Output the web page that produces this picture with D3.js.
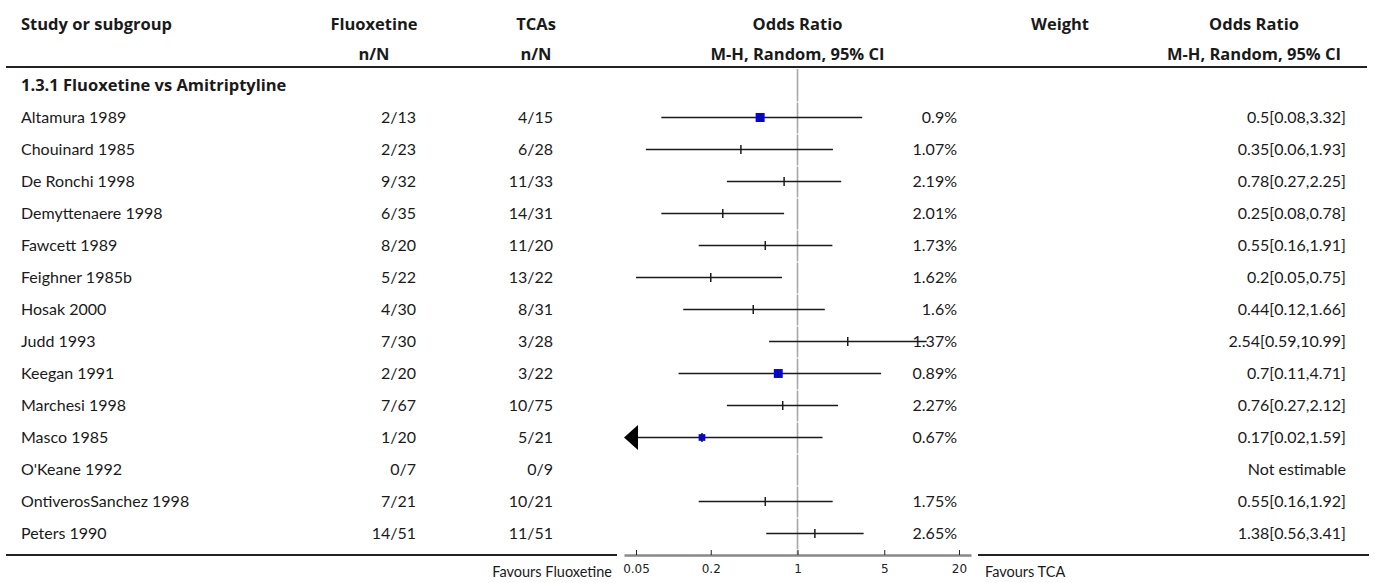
<!DOCTYPE html>
<html>
<head>
<meta charset="utf-8"/>
<title>Fluoxetine vs TCAs</title>
<style>
body {margin:0; background:#fff}
svg text {font-family: Lato, "Source Sans Pro", sans-serif; font-size:16px; fill:#1a1a1a}
svg text.hdr {font-family: "Open Sans", sans-serif; font-weight:bold; font-size:16.5px}
.axis text {font-family:"DejaVu Sans"; font-size:12px; fill:#222}
</style>
</head>
<body>
<div id="chart"></div>
<script src="https://d3js.org/d3.v7.min.js"></script>
<script>
// data
var groupTitle = "1.3.1 Fluoxetine vs Amitriptyline";
var studies = ["Altamura 1989","Chouinard 1985","De Ronchi 1998","Demyttenaere 1998","Fawcett 1989",
  "Feighner 1985b","Hosak 2000","Judd 1993","Keegan 1991","Marchesi 1998","Masco 1985",
  "O'Keane 1992","OntiverosSanchez 1998","Peters 1990"];
var fluoxetine = ["2/13","2/23","9/32","6/35","8/20","5/22","4/30","7/30","2/20","7/67","1/20","0/7","7/21","14/51"];
var tcas = ["4/15","6/28","11/33","14/31","11/20","13/22","8/31","3/28","3/22","10/75","5/21","0/9","10/21","11/51"];
var weights = [0.9,1.07,2.19,2.01,1.73,1.62,1.6,1.37,0.89,2.27,0.67,null,1.75,2.65];
var oddsRatio = [0.5,0.35,0.78,0.25,0.55,0.2,0.44,2.54,0.7,0.76,0.17,null,0.55,1.38];
var ciLow = [0.08,0.06,0.27,0.08,0.16,0.05,0.12,0.59,0.11,0.27,0.02,null,0.16,0.56];
var ciHigh = [3.32,1.93,2.25,0.78,1.91,0.75,1.66,10.99,4.71,2.12,1.59,null,1.92,3.41];
var tickValues = [0.05,0.2,1,5,20];
var favoursLeft = "Favours Fluoxetine", favoursRight = "Favours TCA";

var width = 1375, height = 583;
var svg = d3.select("#chart").append("svg").attr("width", width).attr("height", height);

// log scale for the odds ratio column
var x = d3.scaleLog().domain([0.04, 25]).range([624, 971]);
// row positions
var y = d3.scaleLinear().domain([0, 1]).range([117.5, 149.5]);
var rowH = 32;

// header
svg.append("text").attr("class","hdr").attr("x", 21).attr("y", 24).attr("dy", "0.35em").text("Study or subgroup");
[["Fluoxetine","n/N",374],["TCAs","n/N",536],["Odds Ratio","M-H, Random, 95% CI",x(1)],
 ["Weight","",1060],["Odds Ratio","M-H, Random, 95% CI",1254]].forEach(function(c){
  svg.append("text").attr("class","hdr").attr("x", c[2]).attr("y", 24).attr("dy", "0.35em")
    .attr("text-anchor","middle").text(c[0]);
  svg.append("text").attr("class","hdr").attr("x", c[2]).attr("y", 54).attr("dy", "0.35em")
    .attr("text-anchor","middle").text(c[1]);
});
svg.append("line").attr("x1", 6).attr("x2", 1367).attr("y1", 67).attr("y2", 67)
  .attr("stroke", "#222").attr("stroke-width", 2);

svg.append("text").attr("class","hdr").attr("x", 21).attr("y", y(-1)).attr("dy", "0.35em").text(groupTitle);

// vertical line of no effect, drawn per row cell
var cells = d3.range(-1, studies.length);
svg.selectAll(".noeff").data(cells).enter().append("line")
  .attr("x1", x(1)).attr("x2", x(1))
  .attr("y1", function(i){ return i < 0 ? 69 : y(i) - rowH/2 + 1; })
  .attr("y2", function(i){ return y(i) + rowH/2; })
  .attr("stroke", "#a8a8a8").attr("stroke-width", 1.6);
svg.append("line").attr("x1", x(1)).attr("x2", x(1))
  .attr("y1", y(studies.length-1) + rowH/2 + 1).attr("y2", 555)
  .attr("stroke", "#a8a8a8").attr("stroke-width", 1.6);

var rows = svg.selectAll(".row").data(studies).enter().append("g")
  .attr("transform", function(d, i){ return "translate(0," + y(i) + ")"; });

rows.append("text").attr("x", 21).attr("dy", "0.35em").text(function(d){ return d; });
rows.append("text").attr("x", 416).attr("dy", "0.35em").attr("text-anchor","end")
  .text(function(d, i){ return fluoxetine[i]; });
rows.append("text").attr("x", 553).attr("dy", "0.35em").attr("text-anchor","end")
  .text(function(d, i){ return tcas[i]; });
rows.append("text").attr("x", 957).attr("dy", "0.35em").attr("text-anchor","end")
  .text(function(d, i){ return weights[i] == null ? "" : weights[i] + "%"; });
rows.append("text").attr("x", 1346).attr("dy", "0.35em").attr("text-anchor","end")
  .text(function(d, i){
    return oddsRatio[i] == null ? "Not estimable" : oddsRatio[i] + "[" + ciLow[i] + "," + ciHigh[i] + "]";
  });

var dmin = x.domain()[0], dmax = x.domain()[1];
rows.each(function(d, i){
  if (oddsRatio[i] == null) return;
  var g = d3.select(this);
  var lo = Math.max(ciLow[i], dmin), hi = Math.min(ciHigh[i], dmax);
  var x0 = x(lo), x1 = x(hi);
  if (ciLow[i] < dmin) x0 += 14;
  g.append("line").attr("x1", x0).attr("x2", x1).attr("stroke", "#1a1a1a").attr("stroke-width", 1.5);
  if (ciLow[i] < dmin) {
    g.append("path").attr("d", "M" + x(dmin) + ",0L" + (x(dmin)+14) + ",-12.5L" + (x(dmin)+14) + ",12.5Z")
      .attr("fill", "#000");
  }
  if (weights[i] < 1) {
    var s = weights[i] * 10;
    g.append("rect").attr("x", x(oddsRatio[i]) - s/2).attr("y", -s/2)
      .attr("width", s).attr("height", s).attr("fill", "#0000ff");
  }
  g.append("line").attr("x1", x(oddsRatio[i])).attr("x2", x(oddsRatio[i]))
    .attr("y1", -4.5).attr("y2", 4.5).attr("stroke", "#1a1a1a").attr("stroke-width", 1.5);
});

// bottom rule and axis
svg.append("line").attr("x1", 6).attr("x2", 617).attr("y1", 555).attr("y2", 555)
  .attr("stroke", "#222").attr("stroke-width", 2);
svg.append("line").attr("x1", 978).attr("x2", 1369).attr("y1", 555).attr("y2", 555)
  .attr("stroke", "#222").attr("stroke-width", 2);
var axis = svg.append("g").attr("class", "axis").attr("transform", "translate(0,555)")
  .call(d3.axisBottom(x).tickValues(tickValues).tickSize(0).tickPadding(9)
    .tickFormat(function(d){ return String(d); }));
axis.select(".domain").attr("stroke", "#888").attr("stroke-width", 2.5);
axis.selectAll(".tick line").attr("y2", -5).attr("stroke", "#222");

svg.append("text").attr("x", 612).attr("y", 572).attr("dy", "0.35em").attr("text-anchor","end")
  .style("font-size", "14.5px").text(favoursLeft);
svg.append("text").attr("x", 985).attr("y", 572).attr("dy", "0.35em")
  .style("font-size", "14.5px").text(favoursRight);
</script>
</body>
</html>
